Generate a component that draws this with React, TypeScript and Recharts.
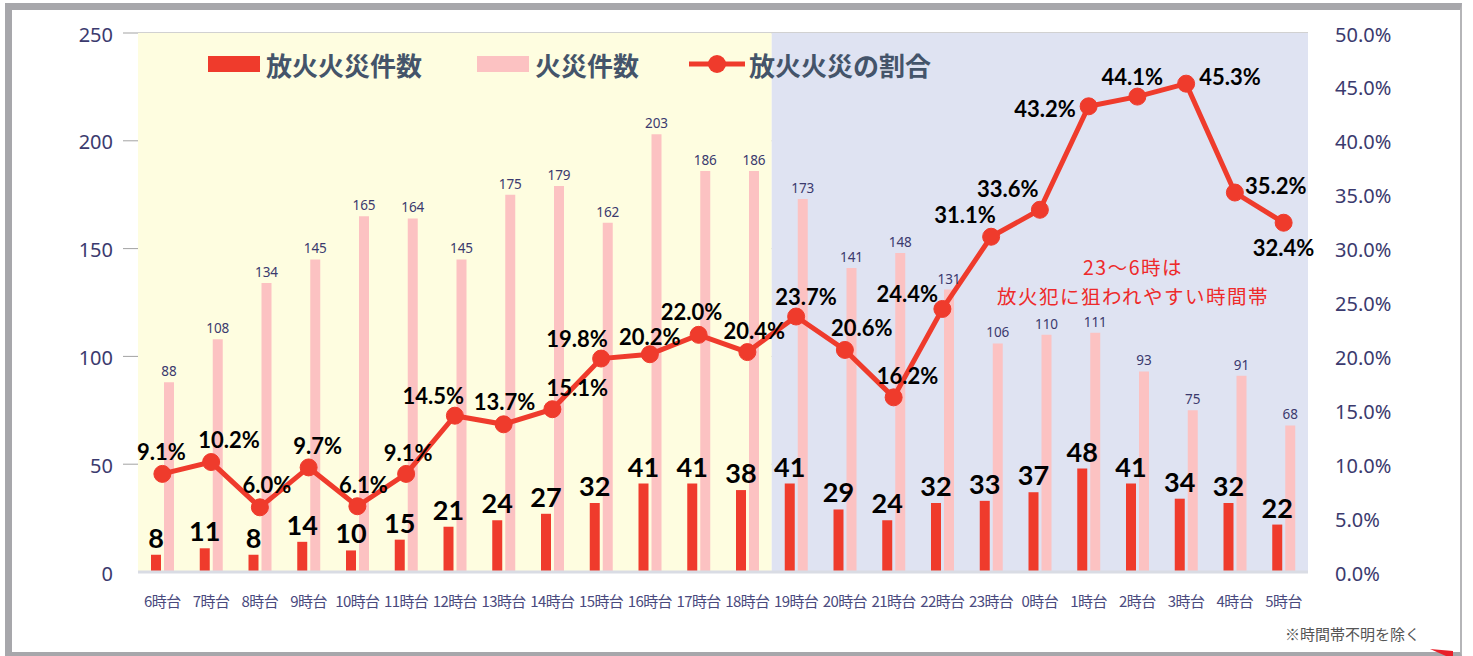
import React from 'react';
import {
  ComposedChart,
  Bar,
  Line,
  XAxis,
  YAxis,
  CartesianGrid,
  ReferenceArea,
  LabelList,
} from 'recharts';

// ---------- data ----------
const hours = [
  '6時台', '7時台', '8時台', '9時台', '10時台', '11時台', '12時台', '13時台',
  '14時台', '15時台', '16時台', '17時台', '18時台', '19時台', '20時台', '21時台',
  '22時台', '23時台', '0時台', '1時台', '2時台', '3時台', '4時台', '5時台',
];
const arsonFires = [8, 11, 8, 14, 10, 15, 21, 24, 27, 32, 41, 41, 38, 41, 29, 24, 32, 33, 37, 48, 41, 34, 32, 22];
const allFires = [88, 108, 134, 145, 165, 164, 145, 175, 179, 162, 203, 186, 186, 173, 141, 148, 131, 106, 110, 111, 93, 75, 91, 68];
const arsonRatio = [9.1, 10.2, 6.0, 9.7, 6.1, 9.1, 14.5, 13.7, 15.1, 19.8, 20.2, 22.0, 20.4, 23.7, 20.6, 16.2, 24.4, 31.1, 33.6, 43.2, 44.1, 45.3, 35.2, 32.4];
const countTicks = [0, 50, 100, 150, 200, 250];
const ratioTicks = [0, 5, 10, 15, 20, 25, 30, 35, 40, 45, 50];
const legendLabels = ['放火火災件数', '火災件数', '放火火災の割合'];
const noteLines = ['23～6時は', '放火犯に狙われやすい時間帯'];
const footnote = '※時間帯不明を除く';
const dayRange = ['6時台', '18時台'];
const nightRange = ['19時台', '5時台'];

// label placement (style): offset of each ratio label centre from its dot
const ratioLabelOffsets: [number, number][] = [
  [-1, -22.5], [18, -23], [7, -23], [9, -22], [6, -22], [2, -21],
  [-21.5, -20], [1, -22.5], [25, -22], [-24, -20], [0, -18], [-7, -23],
  [7, -22], [10, -20], [17, -22], [14, -22], [-35, -15], [-26, -22],
  [-32, -21], [-43.5, 2], [-5, -20], [44, -7], [41, -7], [0, 25],
];

const data = hours.map((h, i) => ({
  hour: h,
  arson: arsonFires[i],
  fires: allFires[i],
  ratio: arsonRatio[i],
}));

// ---------- styles ----------
const RED = '#EF3B2C';
const PINK = '#FCC2C2';
const GRID = '#A3A3A3';
const AXIS_TEXT = '#3B3A6E';
const YELLOW_BG = '#FEFDE0';
const BLUE_BG = '#DFE3F2';
const LEGEND_TEXT = '#44546A';
const CJK = '"Noto Sans CJK JP", "Noto Sans", sans-serif';

const LeftTick = (props: any) => {
  const { x, y, payload } = props;
  return (
    <g>
      {payload.value !== 0 && <line x1={x - 15} x2={x} y1={y} y2={y} stroke={GRID} strokeWidth={1} />}
      <text x={x - 25} y={y + 1} textAnchor="end" dominantBaseline="central" fontSize={20} fill={AXIS_TEXT} fontFamily="Noto Sans">
        {payload.value}
      </text>
    </g>
  );
};

const RightTick = (props: any) => {
  const { x, y, payload } = props;
  return (
    <text x={x + 27} y={y + 1} textAnchor="start" dominantBaseline="central" fontSize={20} fill={AXIS_TEXT} fontFamily="Noto Sans">
      {Number(payload.value).toFixed(1)}%
    </text>
  );
};

const BottomTick = (props: any) => {
  const { x, y, payload } = props;
  return (
    <text x={x} y={y + 28} textAnchor="middle" dominantBaseline="central" fontSize={15} letterSpacing={-0.6} fill="#4A4A7E" fontFamily={CJK}>
      {payload.value}
    </text>
  );
};

const ArsonLabel = (p: any) => (
  <text x={p.x + p.width / 2} y={p.y - 7} textAnchor="middle" fontSize={27} fontWeight={700} fontFamily="Lato" fill="#000">
    {p.value}
  </text>
);

const FiresLabel = (p: any) => (
  <text x={p.x + p.width / 2} y={p.y - 6} textAnchor="middle" fontSize={13.5} fontFamily="Noto Sans" fill={AXIS_TEXT}>
    {p.value}
  </text>
);

const RatioLabel = (p: any) => {
  const [dx, dy] = ratioLabelOffsets[p.index] || [0, -22];
  return (
    <text x={p.x + dx} y={p.y + dy} textAnchor="middle" dominantBaseline="central" fontSize={22} fontWeight={700} fontFamily="Lato" fill="#000">
      {Number(p.value).toFixed(1)}%
    </text>
  );
};

export default function App() {
  return (
    <div style={{ position: 'absolute', left: 0, top: 0, width: 1473, height: 656, background: '#fff', overflow: 'hidden' }}>
      <div
        style={{
          position: 'absolute',
          left: 5,
          top: 3,
          width: 1462 - 5 - 9,
          height: 656 - 3 - 11,
          borderTop: '7px solid #A7A7AB',
          borderLeft: '7px solid #A7A7AB',
          borderBottom: '4px solid #A7A7AB',
          borderRight: '2px solid #B5B5B8',
          background: '#fff',
        }}
      />
      <div style={{ position: 'absolute', left: 0, top: 0 }}>
        <ComposedChart
          width={1473}
          height={656}
          data={data}
          margin={{ top: 33, right: 0, bottom: 0, left: 0 }}
          barGap={3}
        >
          <ReferenceArea x1={dayRange[0]} x2={dayRange[1]} yAxisId="left" fill={YELLOW_BG} fillOpacity={1} stroke="none" />
          <ReferenceArea x1={nightRange[0]} x2={nightRange[1]} yAxisId="left" fill={BLUE_BG} fillOpacity={1} stroke="none" />
          <CartesianGrid yAxisId="left" vertical={false} stroke={GRID} strokeWidth={1} />
          <XAxis
            dataKey="hour"
            interval={0}
            height={84}
            tickSize={0}
            tickMargin={0}
            tickLine={false}
            axisLine={{ stroke: '#D9DCE4', strokeWidth: 3 }}
            tick={<BottomTick />}
          />
          <YAxis
            yAxisId="left"
            orientation="left"
            width={138}
            domain={[0, 250]}
            ticks={countTicks}
            tickSize={0}
            tickMargin={0}
            tickLine={false}
            axisLine={false}
            tick={<LeftTick />}
          />
          <YAxis
            yAxisId="right"
            orientation="right"
            width={165}
            domain={[0, 50]}
            ticks={ratioTicks}
            tickSize={0}
            tickMargin={0}
            tickLine={false}
            axisLine={false}
            tick={<RightTick />}
          />
          <Bar yAxisId="left" dataKey="arson" fill={RED} barSize={10} isAnimationActive={false}>
            <LabelList dataKey="arson" content={<ArsonLabel />} />
          </Bar>
          <Bar yAxisId="left" dataKey="fires" fill={PINK} barSize={10} isAnimationActive={false}>
            <LabelList dataKey="fires" content={<FiresLabel />} />
          </Bar>
          <Line
            yAxisId="right"
            dataKey="ratio"
            stroke={RED}
            strokeWidth={5}
            dot={{ r: 8.5, fill: RED, stroke: RED, strokeWidth: 1 }}
            activeDot={false}
            isAnimationActive={false}
          >
            <LabelList dataKey="ratio" content={<RatioLabel />} />
          </Line>
        </ComposedChart>
      </div>
      <svg width={1473} height={656} style={{ position: 'absolute', left: 0, top: 0, pointerEvents: 'none' }}>
        {/* legend */}
        <rect x={208} y={56} width={52} height={16} fill={RED} />
        <text x={266} y={64} dominantBaseline="central" fontSize={26} fontWeight={700} fill={LEGEND_TEXT} fontFamily={CJK}>
          {legendLabels[0]}
        </text>
        <rect x={477} y={56} width={52} height={16} fill={PINK} />
        <text x={535} y={64} dominantBaseline="central" fontSize={26} fontWeight={700} fill={LEGEND_TEXT} fontFamily={CJK}>
          {legendLabels[1]}
        </text>
        <line x1={689} x2={745} y1={64} y2={64} stroke={RED} strokeWidth={5} />
        <circle cx={717} cy={64} r={9} fill={RED} />
        <text x={749} y={64} dominantBaseline="central" fontSize={26} fontWeight={700} fill={LEGEND_TEXT} fontFamily={CJK}>
          {legendLabels[2]}
        </text>
        {/* annotation */}
        <text x={1133} y={266} textAnchor="middle" dominantBaseline="central" fontSize={19.5} letterSpacing={1.5} fill="#EE2A2A" fontFamily={CJK}>
          {noteLines[0]}
        </text>
        <text x={1133} y={295} textAnchor="middle" dominantBaseline="central" fontSize={19.5} letterSpacing={1.5} fill="#EE2A2A" fontFamily={CJK}>
          {noteLines[1]}
        </text>
        <text x={1285} y={633} dominantBaseline="central" fontSize={15} fill="#555" fontFamily={CJK}>
          {footnote}
        </text>
        <polygon points="1430,649 1453,651 1453,656 1446,656" fill="#E8202A" />
      </svg>
    </div>
  );
}
